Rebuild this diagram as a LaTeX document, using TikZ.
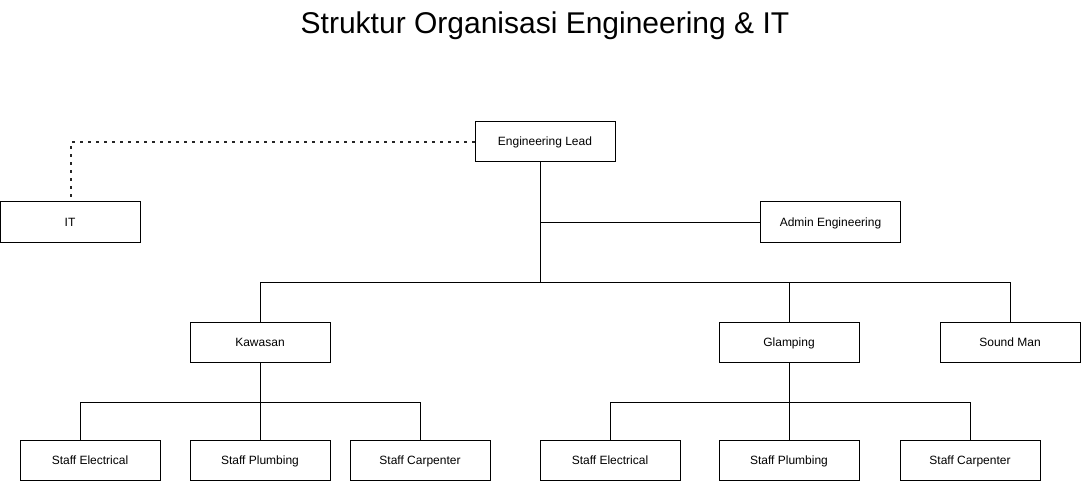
\documentclass[tikz,border=0pt]{standalone}
\usepackage{fontspec}
\setmainfont{Liberation Sans}
\begin{document}
\begin{tikzpicture}[x=1pt,y=-1pt,
  box/.style={draw=black,line width=1pt,fill=white,minimum width=140pt,minimum height=40pt,inner sep=0pt,text height=9.6pt,text depth=1.6pt,font=\fontsize{12}{14}\selectfont,anchor=center},
  conn/.style={draw=black,line width=1pt},
  dots/.style={draw=black!85,line width=2.2pt,dash pattern=on 2.2pt off 5.8pt}]
\useasboundingbox (0,0) rectangle (1081,481);
\node[font=\fontsize{30}{34}\selectfont] (title) at (545,26) {Struktur Organisasi Engineering \& IT};
\node[box] (lead) at (545,142) {Engineering Lead};
\node[box] (it) at (70,222) {IT};
\node[box] (admin) at (830.5,222) {Admin Engineering};
\node[box] (kaw) at (260,342) {Kawasan};
\node[box] (glam) at (789,342) {Glamping};
\node[box] (sound) at (1010,342) {Sound Man};
\node[box] (se1) at (90,460) {Staff Electrical};
\node[box] (sp1) at (260,460) {Staff Plumbing};
\node[box] (sc1) at (420,460) {Staff Carpenter};
\node[box] (se2) at (610,460) {Staff Electrical};
\node[box] (sp2) at (789,460) {Staff Plumbing};
\node[box] (sc2) at (970,460) {Staff Carpenter};
\coordinate (hub) at (540,282);
\coordinate (kh) at (260,402);
\coordinate (gh) at (789,402);
% main connectors
\draw[conn] (lead.south -| hub) -- (hub);
\draw[conn] (admin.west) -- (admin.west -| hub);
\draw[conn] (kaw.north) -- (kaw.north |- hub) -- (sound.north |- hub) -- (sound.north);
\draw[conn] (glam.north |- hub) -- (glam.north);
% kawasan
\draw[conn] (kaw.south) -- (kh);
\draw[conn] (se1.north -| 80,0) -- (80,402) -- (sc1.north |- kh) -- (sc1.north);
\draw[conn] (kh) -- (sp1.north);
% glamping
\draw[conn] (glam.south) -- (gh);
\draw[conn] (se2.north) -- (se2.north |- gh) -- (sc2.north |- gh) -- (sc2.north);
\draw[conn] (gh) -- (sp2.north);
% dotted
\draw[dots] (lead.west) -- (71,142) -- (it.north -| 71,0);
\end{tikzpicture}
\end{document}
